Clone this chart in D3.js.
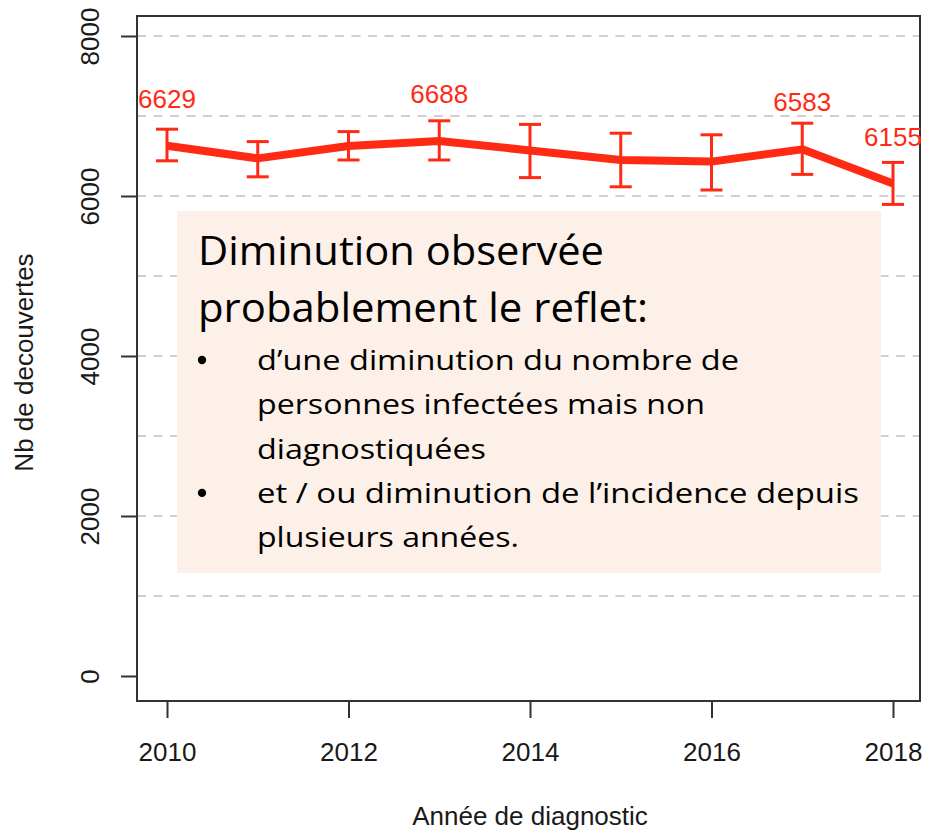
<!DOCTYPE html>
<html><head><meta charset="utf-8">
<script src="https://cdn.jsdelivr.net/npm/d3@7"></script>
<style>body{margin:0;background:#fff}svg{display:block}</style>
</head><body>
<svg id="c" width="926" height="832"></svg>
<script>
const years = [2010, 2011, 2012, 2013, 2014, 2015, 2016, 2017, 2018];
const values = [6629, 6470, 6625, 6688, 6570, 6450, 6430, 6583, 6155];
const lower = [6440, 6240, 6450, 6450, 6230, 6115, 6075, 6270, 5895];
const upper = [6835, 6680, 6805, 6940, 6895, 6785, 6765, 6910, 6420];
const labelledYears = [2010, 2013, 2017, 2018];
const xTicks = [2010, 2012, 2014, 2016, 2018];
const yTicks = [0, 2000, 4000, 6000, 8000];
const gridValues = [1000, 2000, 3000, 4000, 5000, 6000, 7000, 8000];
const noteTitle = ["Diminution observée", "probablement le reflet:"];
const noteLines = [
  {bullet: true, text: "d\u2019une diminution du nombre de", w: 482},
  {bullet: false, text: "personnes infectées mais non", w: 448},
  {bullet: false, text: "diagnostiquées", w: 229},
  {bullet: true, text: "et / ou diminution de l\u2019incidence depuis", w: 602},
  {bullet: false, text: "plusieurs années.", w: 262}
];
const titleWidths = [406, 450];

const svg = d3.select("#c");
const frame = {l: 137, t: 16, r: 920, b: 701};
const x = d3.scaleLinear().domain([2010, 2018]).range([167, 893]);
const y = d3.scaleLinear().domain([0, 8000]).range([676, 36]);
const red = "#ff2a14";
const axisFont = "'Liberation Sans', Arial, sans-serif";

// grid
svg.append("g").selectAll("line").data(gridValues).join("line")
  .attr("x1", frame.l).attr("x2", frame.r)
  .attr("y1", d => y(d)).attr("y2", d => y(d))
  .attr("stroke", "#cfcfcf").attr("stroke-width", 2)
  .attr("stroke-dasharray", "9,7.5");

// annotation box
const box = svg.append("g");
box.append("rect").attr("x", 177).attr("y", 211).attr("width", 704).attr("height", 362)
  .attr("fill", "#fcf0e8");
const noteFont = "'Open Sans', 'Noto Sans', sans-serif";
noteTitle.forEach((t, i) => {
  box.append("text").attr("x", 198).attr("y", 265 + i * 57)
    .attr("font-family", noteFont).attr("font-size", 40).attr("fill", "#000")
    .attr("textLength", titleWidths[i]).attr("lengthAdjust", "spacingAndGlyphs")
    .text(t);
});
noteLines.forEach((d, i) => {
  const by = 370 + i * 44.3;
  if (d.bullet) box.append("circle").attr("cx", 202).attr("cy", by - 10).attr("r", 4.2).attr("fill", "#000");
  box.append("text").attr("x", 257).attr("y", by)
    .attr("font-family", noteFont).attr("font-size", 28).attr("fill", "#000")
    .attr("textLength", d.w).attr("lengthAdjust", "spacingAndGlyphs")
    .text(d.text);
});

// frame
svg.append("rect").attr("x", frame.l).attr("y", frame.t)
  .attr("width", frame.r - frame.l).attr("height", frame.b - frame.t)
  .attr("fill", "none").attr("stroke", "#333").attr("stroke-width", 2);

// y axis
const yAxis = d3.axisLeft(y).tickValues(yTicks).tickSize(16).tickFormat(d3.format("d"));
const gy = svg.append("g").attr("transform", `translate(${frame.l},0)`).call(yAxis);
gy.select(".domain").remove();
gy.selectAll(".tick line").attr("stroke", "#333").attr("stroke-width", 2);
gy.selectAll(".tick text").attr("font-family", axisFont).attr("font-size", 26).attr("fill", "#1a1a1a")
  .attr("transform", "rotate(-90)").attr("x", 0).attr("y", -38)
  .attr("dy", 0).attr("text-anchor", "middle");

// x axis
const xAxis = d3.axisBottom(x).tickValues(xTicks).tickSize(17).tickFormat(d3.format("d"));
const gx = svg.append("g").attr("transform", `translate(0,${frame.b})`).call(xAxis);
gx.select(".domain").remove();
gx.selectAll(".tick line").attr("stroke", "#333").attr("stroke-width", 2);
gx.selectAll(".tick text").attr("font-family", axisFont).attr("font-size", 26).attr("fill", "#1a1a1a")
  .attr("y", 60).attr("dy", 0);

// axis titles
svg.append("text").attr("transform", `translate(33,${(frame.t + frame.b) / 2 + 4}) rotate(-90)`)
  .attr("text-anchor", "middle").attr("font-family", axisFont).attr("font-size", 26).attr("fill", "#1a1a1a")
  .text("Nb de decouvertes");
svg.append("text").attr("x", 530).attr("y", 825)
  .attr("text-anchor", "middle").attr("font-family", axisFont).attr("font-size", 26).attr("fill", "#1a1a1a")
  .text("Année de diagnostic");

// error bars
const eb = svg.append("g").attr("stroke", red).attr("stroke-width", 3);
years.forEach((yr, i) => {
  const cx = x(yr);
  eb.append("line").attr("x1", cx).attr("x2", cx).attr("y1", y(lower[i])).attr("y2", y(upper[i]));
  eb.append("line").attr("x1", cx - 11).attr("x2", cx + 11).attr("y1", y(lower[i])).attr("y2", y(lower[i]));
  eb.append("line").attr("x1", cx - 11).attr("x2", cx + 11).attr("y1", y(upper[i])).attr("y2", y(upper[i]));
});

// line
const data = years.map((yr, i) => ({yr, v: values[i]}));
svg.append("path").datum(data)
  .attr("d", d3.line().x(d => x(d.yr)).y(d => y(d.v)))
  .attr("fill", "none").attr("stroke", red).attr("stroke-width", 8)
  .attr("stroke-linejoin", "round");

// value labels
svg.append("g").selectAll("text").data(data.filter(d => labelledYears.includes(d.yr))).join("text")
  .attr("x", d => x(d.yr)).attr("y", d => y(d.v) - 38)
  .attr("text-anchor", "middle").attr("font-family", axisFont).attr("font-size", 26)
  .attr("fill", red).text(d => d.v);
</script>
</body></html>
